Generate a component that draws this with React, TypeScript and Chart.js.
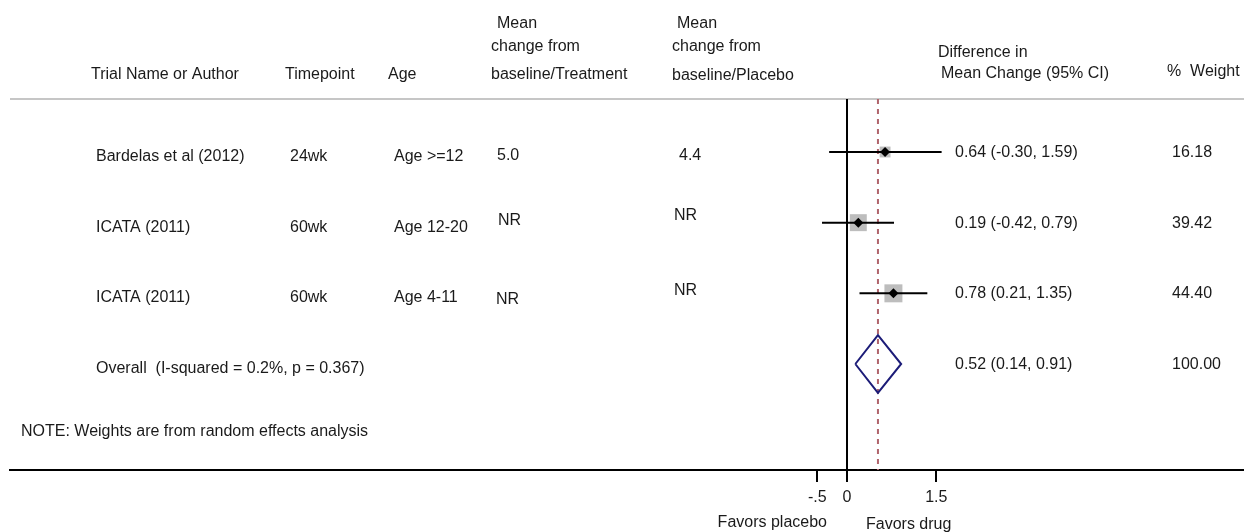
import React, { useEffect, useRef } from "react";
import { Chart, registerables } from "chart.js";

Chart.register(...registerables);

// ---------- data ----------
const studies = ["Bardelas et al (2012)", "ICATA (2011)", "ICATA (2011)"];
const timepoints = ["24wk", "60wk", "60wk"];
const ages = ["Age >=12", "Age 12-20", "Age 4-11"];
const treatmentChange = ["5.0", "NR", "NR"];
const placeboChange = ["4.4", "NR", "NR"];
const estimates = [0.64, 0.19, 0.78];
const lowerCI = [-0.3, -0.42, 0.21];
const upperCI = [1.59, 0.79, 1.35];
const weights = [16.18, 39.42, 44.4];

const overallLabel = "Overall  (I-squared = 0.2%, p = 0.367)";
const overallEstimate = 0.52;
const overallLower = 0.14;
const overallUpper = 0.91;
const overallWeight = 100.0;
const noteText = "NOTE: Weights are from random effects analysis";

const xTickValues = [-0.5, 0, 1.5];
const xTickLabels = ["-.5", "0", "1.5"];
const favorsLeft = "Favors placebo";
const favorsRight = "Favors drug";

const headerTrial = ["Trial Name or Author"];
const headerTimepoint = ["Timepoint"];
const headerAge = ["Age"];
const headerTreatment = ["Mean", "change from", "baseline/Treatment"];
const headerPlacebo = ["Mean", "change from", "baseline/Placebo"];
const headerDiff = ["Difference in", "Mean Change (95% CI)"];
const headerWeight = ["%  Weight"];

// ---------- layout / style ----------
const X_MIN = -14.067;
const X_MAX = 6.672;
const Y_MIN = 0.25;
const Y_MAX = 5.5;
const FONT = "'Liberation Sans', Arial, Helvetica, sans-serif";
const TEXT_COLOR = "#1a1a1a";

const fmt = (v: number) => v.toFixed(2);

const forestText = {
  id: "forestText",
  beforeDatasetsDraw(chart: any) {
    const { ctx, chartArea } = chart;
    ctx.save();
    ctx.strokeStyle = "#c6c6c6";
    ctx.lineWidth = 2;
    ctx.beginPath();
    ctx.moveTo(chartArea.left, chartArea.top);
    ctx.lineTo(chartArea.right, chartArea.top);
    ctx.stroke();
    ctx.restore();
  },
  afterDraw(chart: any) {
    const { ctx } = chart;
    const ys = chart.scales.y;
    const xs = chart.scales.x;
    ctx.save();
    ctx.font = `16px ${FONT}`;
    ctx.fillStyle = TEXT_COLOR;
    ctx.textBaseline = "middle";
    ctx.textAlign = "left";
    const t = (s: string, x: number, y: number) => ctx.fillText(s, x, y);

    // headers
    t(headerTrial[0], 91, 75);
    t(headerTimepoint[0], 285, 75);
    t(headerAge[0], 388, 75);
    t(headerTreatment[0], 497, 24);
    t(headerTreatment[1], 491, 47);
    t(headerTreatment[2], 491, 75);
    t(headerPlacebo[0], 677, 24);
    t(headerPlacebo[1], 672, 47);
    t(headerPlacebo[2], 672, 76);
    t(headerDiff[0], 938, 53);
    t(headerDiff[1], 941, 74);
    t(headerWeight[0], 1167, 72);

    const trtDy = [4, -2, 6];
    const plcDy = [4, -7, -3];
    const trtX = [497, 498, 496];
    studies.forEach((s, i) => {
      const y = ys.getPixelForValue(i + 1);
      t(s, 96, y + 4.5);
      t(timepoints[i], 290, y + 4.5);
      t(ages[i], 394, y + 4.5);
      t(treatmentChange[i], trtX[i], y + trtDy[i]);
      t(placeboChange[i], i === 0 ? 679 : 674, y + plcDy[i]);
      t(`${fmt(estimates[i])} (${fmt(lowerCI[i])}, ${fmt(upperCI[i])})`, 955, y + 0.5);
      t(fmt(weights[i]), 1172, y + 0.5);
    });

    const yo = ys.getPixelForValue(4);
    t(overallLabel, 96, yo + 5);
    t(`${fmt(overallEstimate)} (${fmt(overallLower)}, ${fmt(overallUpper)})`, 955, yo + 0.5);
    t(fmt(overallWeight), 1172, yo + 0.5);

    const yn = ys.getPixelForValue(5);
    t(noteText, 21, yn - 3.5);

    const x0 = xs.getPixelForValue(0);
    ctx.textAlign = "right";
    t(favorsLeft, x0 - 20, 522.5);
    ctx.textAlign = "left";
    t(favorsRight, x0 + 19, 525);
    ctx.restore();
  },
};

export default function App() {
  const canvasRef = useRef<HTMLCanvasElement | null>(null);

  useEffect(() => {
    if (!canvasRef.current) return;

    const studyPoints = estimates.map((e, i) => ({ x: e, y: i + 1 }));
    const datasets: any[] = [];

    // reference line at zero
    datasets.push({
      type: "scatter",
      showLine: true,
      data: [
        { x: 0, y: Y_MIN },
        { x: 0, y: Y_MAX },
      ],
      borderColor: "#000",
      borderWidth: 2,
      pointRadius: 0,
      order: 6,
    });
    // dashed overall line
    datasets.push({
      type: "scatter",
      showLine: true,
      data: [
        { x: overallEstimate, y: Y_MIN },
        { x: overallEstimate, y: Y_MAX },
      ],
      borderColor: "#b0646c",
      borderWidth: 2,
      borderDash: [5, 5],
      pointRadius: 0,
      order: 5,
    });
    // weight boxes
    datasets.push({
      type: "scatter",
      data: studyPoints,
      pointStyle: "rect",
      pointRadius: weights.map((w) => (2.7 * Math.sqrt(w)) / 2 / Math.SQRT1_2),
      backgroundColor: "#bdbdbd",
      borderColor: "#bdbdbd",
      borderWidth: 0,
      order: 3,
    });
    // CI lines
    estimates.forEach((_, i) => {
      datasets.push({
        type: "scatter",
        showLine: true,
        data: [
          { x: lowerCI[i], y: i + 1 },
          { x: upperCI[i], y: i + 1 },
        ],
        borderColor: "#000",
        borderWidth: 2,
        pointRadius: 0,
        order: 2,
      });
    });
    // point estimates
    datasets.push({
      type: "scatter",
      data: studyPoints,
      pointStyle: "rectRot",
      pointRadius: 5,
      backgroundColor: "#000",
      borderColor: "#000",
      borderWidth: 0,
      order: 0,
    });
    // overall diamond
    const h = 0.41;
    datasets.push({
      type: "scatter",
      showLine: true,
      data: [
        { x: overallLower, y: 4 },
        { x: overallEstimate, y: 4 - h },
        { x: overallUpper, y: 4 },
        { x: overallEstimate, y: 4 + h },
        { x: overallLower, y: 4 },
      ],
      borderColor: "#1c1c78",
      borderWidth: 2,
      borderJoinStyle: "miter",
      pointRadius: 0,
      fill: false,
      order: 1,
    });

    const chart = new Chart(canvasRef.current, {
      type: "scatter",
      data: { datasets },
      plugins: [forestText],
      options: {
        responsive: false,
        animation: false,
        events: [],
        layout: { autoPadding: false, padding: { top: 99, left: 10, right: 0, bottom: 0 } },
        plugins: {
          legend: { display: false },
          tooltip: { enabled: false },
        },
        scales: {
          x: {
            type: "linear",
            min: X_MIN,
            max: X_MAX,
            afterBuildTicks: (s: any) => {
              s.ticks = xTickValues.map((v) => ({ value: v }));
            },
            afterFit: (s: any) => {
              s.height = 62;
              s.paddingLeft = 0;
              s.paddingRight = 0;
            },
            ticks: {
              autoSkip: false,
              maxRotation: 0,
              padding: 6,
              color: TEXT_COLOR,
              font: { family: FONT, size: 16 },
              callback: (_v: any, i: number) => xTickLabels[i],
            },
            grid: {
              drawOnChartArea: false,
              drawTicks: true,
              tickLength: 12,
              color: "#000",
              lineWidth: 2,
            },
            border: { display: true, color: "#000", width: 2 },
          },
          y: {
            type: "linear",
            min: Y_MIN,
            max: Y_MAX,
            reverse: true,
            display: false,
          },
        },
      } as any,
    });

    return () => chart.destroy();
  }, []);

  return (
    <div style={{ position: "absolute", left: 0, top: 0, width: 1244, height: 532, background: "#fff" }}>
      <canvas ref={canvasRef} width={1244} height={532} style={{ width: 1244, height: 532 }} />
    </div>
  );
}
